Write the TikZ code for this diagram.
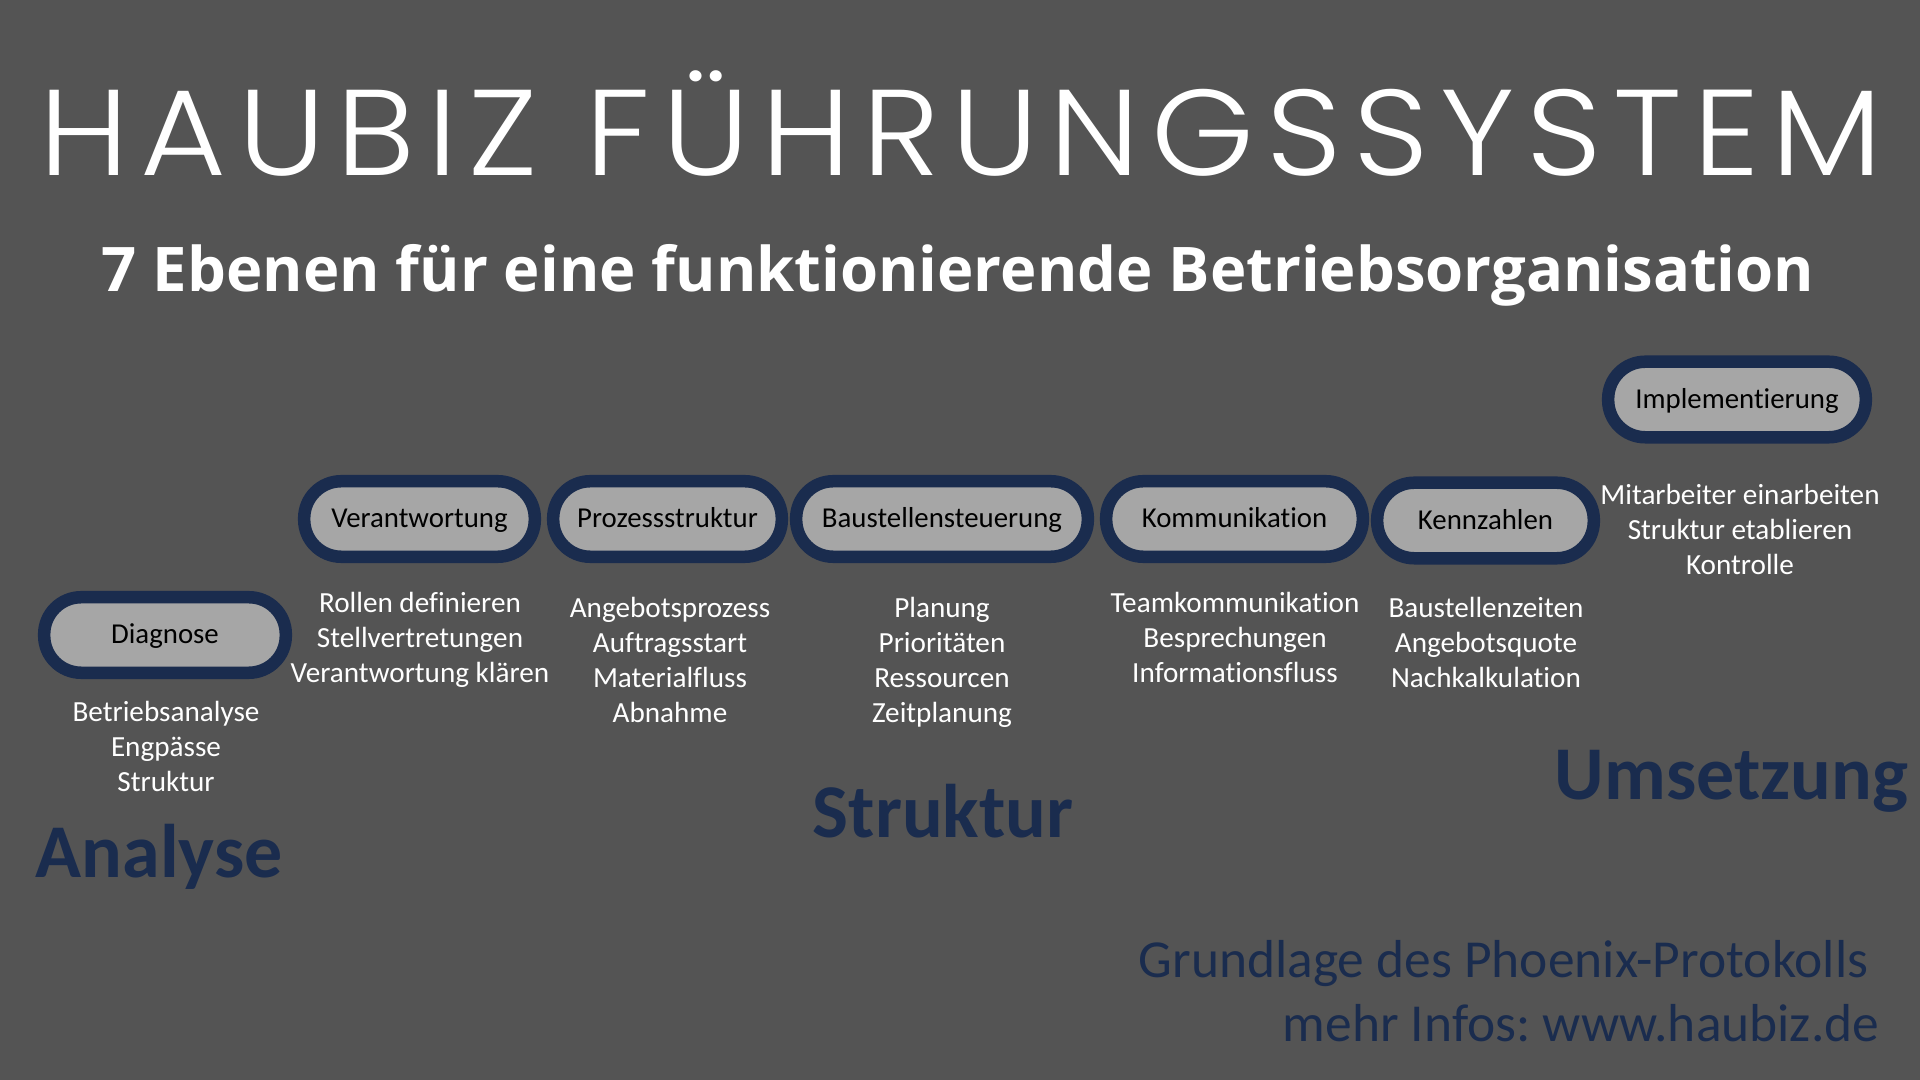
\documentclass[tikz,border=0pt]{standalone}
\usepackage{fontspec}
\setmainfont{Carlito}[Ligatures=NoCommon]
\IfFontExistsTF{Poppins Light}
  {\newfontfamily\titlefont{Poppins Light}[LetterSpace=9.5, FakeStretch=1.08]}
  {\newfontfamily\titlefont{Poppins}[LetterSpace=9.5, FakeStretch=1.08]}
\newfontfamily\subtitlefont{Open Sans}
\usepackage{xcolor}
\definecolor{bggray}{HTML}{545454}
\definecolor{pillgray}{HTML}{A6A6A6}
\definecolor{navy}{HTML}{1A2C4E}
\frenchspacing

\begin{document}
\begin{tikzpicture}[x=0.01cm, y=-0.01cm,
	stage/.style={draw=navy, fill=pillgray, line width=0.125cm, rounded corners=0.37cm,
		minimum height=0.755cm, text height=6.4pt, text depth=1.3pt, inner sep=0pt,
		text=black, font=\fontsize{8.2pt}{9.8pt}\selectfont},
	items/.style={anchor=base, align=center, text=white, inner sep=0pt,
		font=\fontsize{8.3pt}{9.96pt}\selectfont},
	phase/.style={anchor=base, text=navy, inner sep=0pt,
		font=\fontsize{21.6pt}{26pt}\selectfont\bfseries}]
	
	%background
	\fill[bggray] (0,0) rectangle (1920,1080);
	\useasboundingbox (0,0) rectangle (1920,1080);
	
	%headline
	\node[anchor=base, text=white, inner sep=0pt, font=\titlefont\fontsize{34.7pt}{40pt}\selectfont] (title) at (961,176) {HAUBIZ FÜHRUNGSSYSTEM};
	\node[anchor=base, text=white, inner sep=0pt, font=\subtitlefont\fontsize{17.5pt}{21pt}\selectfont\bfseries] (subtitle) at (958,292) {7 Ebenen für eine funktionierende Betriebsorganisation};
	
	%stages
	\node[stage, minimum width=2.415cm] (diagnose) at (165,635) {Diagnose};
	\node[stage, minimum width=2.305cm] (verantwortung) at (419.5,519) {Verantwortung};
	\node[stage, minimum width=2.285cm] (prozess) at (667.5,519) {Prozessstruktur};
	\node[stage, minimum width=2.915cm] (baustelle) at (942,519) {Baustellensteuerung};
	\node[stage, minimum width=2.565cm] (kommunikation) at (1234.5,519) {Kommunikation};
	\node[stage, minimum width=2.165cm] (kennzahlen) at (1485.5,520.5) {Kennzahlen};
	\node[stage, minimum width=2.575cm] (implementierung) at (1737,399.5) {Implementierung};
	
	%items (anchored at the baseline of the last line)
	\node[items] (diagnose list) at (166,792) {Betriebsanalyse\\Engpässe\\Struktur};
	\node[items] (verantwortung list) at (420,683) {Rollen definieren\\Stellvertretungen\\Verantwortung klären};
	\node[items] (prozess list) at (670,723) {Angebotsprozess\\Auftragsstart\\Materialfluss\\Abnahme};
	\node[items] (baustelle list) at (942,723) {Planung\\Prioritäten\\Ressourcen\\Zeitplanung};
	\node[items] (kommunikation list) at (1235,683) {Teamkommunikation\\Besprechungen\\Informationsfluss};
	\node[items] (kennzahlen list) at (1486,688) {Baustellenzeiten\\Angebotsquote\\Nachkalkulation};
	\node[items] (implementierung list) at (1740,575) {Mitarbeiter einarbeiten\\Struktur etablieren\\Kontrolle};
	
	%phases
	\node[phase, anchor=base west] (analyse) at (35,878) {Analyse};
	\node[phase] (struktur) at (943,838) {Struktur};
	\node[phase] (umsetzung) at (1731.5,800) {Umsetzung};
	
	%footer
	\node[anchor=base east, text=navy, inner sep=0pt, font=\fontsize{15.2pt}{18pt}\selectfont] (grundlage) at (1869,978) {Grundlage des Phoenix-Protokolls};
	\node[anchor=base east, text=navy, inner sep=0pt, font=\fontsize{15.2pt}{18pt}\selectfont] (infos) at (1880,1042) {mehr Infos: www.haubiz.de};
	
\end{tikzpicture}
\end{document}
